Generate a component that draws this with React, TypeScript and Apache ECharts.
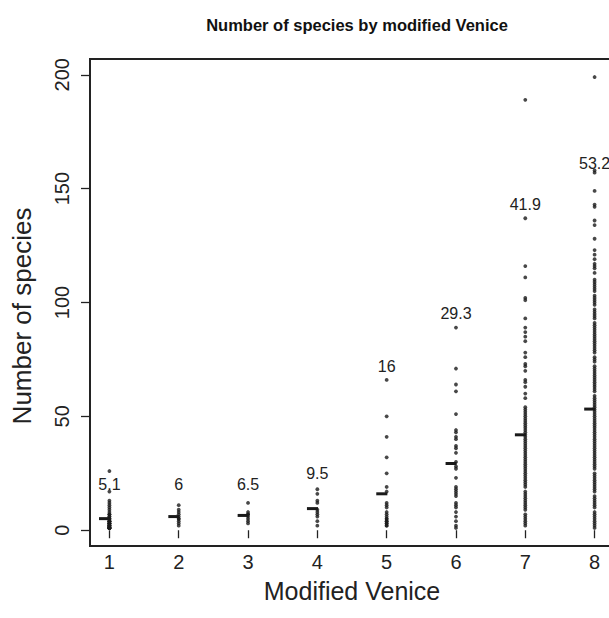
import React, { useEffect, useRef } from "react";
import * as echarts from "echarts";

const categories = [1, 2, 3, 4, 5, 6, 7, 8];
const means = [5.1, 6, 6.5, 9.5, 16, 29.3, 41.9, 53.2];
const meanLabels = ["5.1", "6", "6.5", "9.5", "16", "29.3", "41.9", "53.2"];
const labelHeights = [20, 20, 20, 25, 72, 95, 143, 161];
const yTicks = [0, 50, 100, 150, 200];
const xRange = [0.72, 8.28];
const yRange = [-6.92, 206.92];

const cat1 = [26, 17, 13, 12, 11, 10, 9, 8, 7, 7, 6, 6, 5, 5, 5, 4, 4, 4, 4, 3, 3, 3, 3, 3, 2, 2, 2, 2, 2, 2, 1, 1, 1, 1, 1, 1, 1, 1, 1];
const cat2 = [11, 9, 8, 7, 6, 5, 5, 4, 3, 2];
const cat3 = [12, 8, 7, 7, 6, 5, 4, 3];
const cat4 = [18, 16, 13, 12, 9, 8, 7, 6, 4, 2];
const cat5 = [66, 50, 41, 32, 25, 19, 17, 12, 11, 10, 8, 7, 6, 5, 5, 4, 4, 3, 3, 2, 2];
const cat6 = [89, 71, 64, 61, 51, 44, 43, 41, 40, 37, 36, 34, 30, 28, 27, 23, 19, 18, 17, 16, 15, 12, 11, 10, 8, 6, 4, 2, 1];
const cat7 = [189, 137, 116, 111, 102, 101, 93, 89, 87, 85, 83, 78, 76, 73, 72, 70, 66, 65, 63, 60, 58,
  54, 53, 52, 51, 50, 49, 48, 47, 46, 45, 44, 43, 42, 41, 40, 39, 38, 37, 36, 35, 34, 33, 32, 31, 30, 29, 28, 27,
  26, 25, 24, 23, 22, 21, 20, 19, 17, 16, 15, 14, 13, 12, 11, 10, 9, 7, 6, 5, 4, 3, 2];
const cat8 = [199, 158, 157, 149, 143, 142, 136, 134, 128, 123, 121, 119, 117, 116, 115, 113,
  110, 109, 108, 107, 106, 105, 103, 102, 101, 100, 99, 97, 96, 95, 94, 93, 91, 90, 89, 88, 87, 86, 85, 84, 83, 82, 81, 80, 79, 78,
  76, 75, 74, 72, 71, 70, 69, 68, 67, 66, 65, 64, 63, 62, 61, 59, 58, 57, 56, 55, 54, 53, 52, 51, 50, 49, 48, 47, 46, 45, 44, 43, 42, 41,
  40, 39, 38, 37, 36, 35, 34, 33, 32, 31, 30, 29, 28, 27, 25, 24, 23, 22, 21, 20, 19, 18, 17, 15, 14, 13, 12, 11, 10, 8, 7, 6, 5, 4, 3, 2, 1];

const groups = [cat1, cat2, cat3, cat4, cat5, cat6, cat7, cat8];

export default function App() {
  const ref = useRef<HTMLDivElement>(null);
  useEffect(() => {
    document.body.style.margin = "0";
    const chart = echarts.init(ref.current as HTMLDivElement, null, { renderer: "svg" });
    const points: number[][] = [];
    groups.forEach((g, i) => g.forEach((v) => points.push([categories[i], v])));
    const font = "'Liberation Sans', Arial, Helvetica, sans-serif";
    const ink = "#222";
    chart.setOption({
      animation: false,
      title: {
        text: "Number of species by modified Venice",
        left: 352,
        top: 11,
        textAlign: "center",
        textStyle: { fontFamily: font, fontSize: 16.5, fontWeight: "bold", color: "#111" },
      },
      graphic: [
        {
          type: "text",
          x: 22,
          y: 316,
          rotation: Math.PI / 2,
          style: {
            text: "Number of species",
            textAlign: "center",
            textVerticalAlign: "middle",
            fontSize: 26,
            fontFamily: font,
            fill: ink,
          },
        },
      ],
      grid: {
        left: 90,
        top: 59,
        width: 524,
        height: 487,
        outerBoundsMode: "none",
        containLabel: false,
        show: true,
        borderColor: ink,
        borderWidth: 1.8,
      },
      xAxis: {
        type: "value",
        min: xRange[0],
        max: xRange[1],
        axisLine: { show: false },
        splitLine: { show: false },
        axisTick: { show: true, length: 8, customValues: categories, lineStyle: { color: ink, width: 1.3 } },
        axisLabel: { customValues: categories, margin: 6, fontSize: 20, color: ink, fontFamily: font },
        name: "Modified Venice",
        nameLocation: "middle",
        nameGap: 32,
        nameTextStyle: { fontSize: 25, color: ink, fontFamily: font },
      },
      yAxis: {
        type: "value",
        min: yRange[0],
        max: yRange[1],
        axisLine: { show: false },
        splitLine: { show: false },
        axisTick: { show: true, length: 9, customValues: yTicks, lineStyle: { color: ink, width: 1.3 } },
        axisLabel: { customValues: yTicks, margin: 18, rotate: 90, fontSize: 20, color: ink, fontFamily: font },
      },
      series: [
        {
          type: "custom",
          data: [[xRange[0], yRange[1], xRange[1], yRange[0]]],
          renderItem: (params: any, api: any) => {
            const a = api.coord([api.value(0), api.value(1)]);
            const b = api.coord([api.value(2), api.value(3)]);
            return {
              type: "rect",
              shape: { x: a[0], y: a[1], width: b[0] - a[0], height: b[1] - a[1] },
              style: { fill: "none", stroke: ink, lineWidth: 1.8 },
            };
          },
        },
        {
          type: "scatter",
          data: points,
          symbolSize: 3.8,
          itemStyle: { color: "#1a1a1a" },
        },
        {
          type: "custom",
          data: means.map((m, i) => [categories[i], m]),
          renderItem: (params: any, api: any) => {
            const p1 = api.coord([api.value(0) - 0.15, api.value(1)]);
            const p2 = api.coord([api.value(0) + 0.01, api.value(1)]);
            return {
              type: "line",
              shape: { x1: p1[0], y1: p1[1], x2: p2[0], y2: p2[1] },
              style: { stroke: "#1a1a1a", lineWidth: 3 },
            };
          },
        },
        {
          type: "custom",
          data: labelHeights.map((h, i) => [categories[i], h]),
          renderItem: (params: any, api: any) => {
            const p = api.coord([api.value(0), api.value(1)]);
            return {
              type: "text",
              x: p[0],
              y: p[1],
              style: {
                text: meanLabels[params.dataIndex],
                textAlign: "center",
                textVerticalAlign: "middle",
                fontSize: 16,
                fontFamily: font,
                fill: ink,
              },
            };
          },
        },
      ],
    });
    return () => chart.dispose();
  }, []);
  return <div ref={ref} style={{ width: 609, height: 618 }} />;
}
